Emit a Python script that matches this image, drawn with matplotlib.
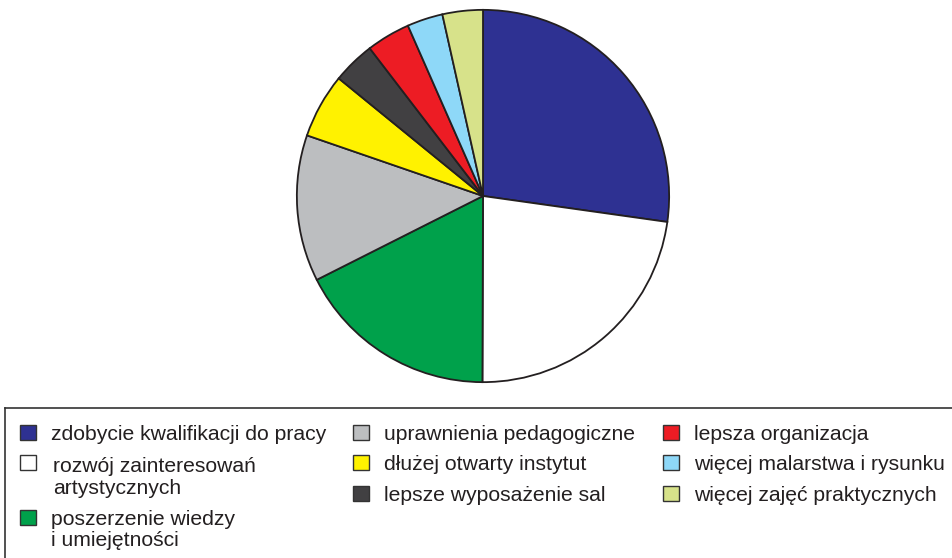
import matplotlib.pyplot as plt
from matplotlib.patches import Rectangle

# share of answers (percent), clockwise from 12 o'clock
labels = ["zdobycie kwalifikacji do pracy",
          "rozwój zainteresowań\nartystycznych",
          "poszerzenie wiedzy\ni umiejętności",
          "uprawnienia pedagogiczne",
          "dłużej otwarty instytut",
          "lepsze wyposażenie sal",
          "lepsza organizacja",
          "więcej malarstwa i rysunku",
          "więcej zajęć praktycznych"]
values = [27.2, 22.8, 17.5, 12.7, 5.6, 3.7, 3.8, 3.1, 3.5]
colors = ["#2E3192", "#FFFFFF", "#00A14B", "#BCBEC0", "#FFF200",
          "#414042", "#ED1C24", "#8ED8F8", "#D7E28A"]

plt.rcParams['font.family'] = ['Liberation Sans', 'DejaVu Sans']

W, H = 952, 558
fig = plt.figure(figsize=(W / 100, H / 100), dpi=100)

# pie: centre (483,196) px, radius 188 px
cx, cy, r = 483, 196, 188
ax = fig.add_axes([(cx - r) / W, 1 - (cy + r) / H, 2 * r / W, 2 * r / H])
ax.pie(values, colors=colors, startangle=90, counterclock=False, radius=1,
       wedgeprops=dict(edgecolor="#231F20", linewidth=1.3))
ax.set_xlim(-1.01, 1.01)
ax.set_ylim(-1.01, 1.01)
ax.set_aspect("equal")
ax.axis("off")

def px(x, y):
    return x / W, 1 - y / H

# legend frame (open at right and bottom)
fig.add_artist(plt.Line2D([5 / W, 5 / W], [1 - 408 / H, 0], color="#333333",
                          linewidth=1.2, transform=fig.transFigure))
fig.add_artist(plt.Line2D([5 / W, 1], [1 - 408 / H, 1 - 408 / H], color="#333333",
                          linewidth=1.2, transform=fig.transFigure))

# legend layout in pixels: square left edge, square bottom per row
col_x = [20, 353, 663]
row_y = [[440, 470, 525], [440, 470, 501], [440, 470, 501]]
text_dx = [[31, 33, 31], [31, 31, 31], [31, 31, 31]]
text_dy = [[0, 2.5, 0], [0, 0, 0], [0, 0, 0]]
for i, (lab, col) in enumerate(zip(labels, colors)):
    c, rr = divmod(i, 3)
    x0, y0 = col_x[c], row_y[c][rr]
    bx, by = px(x0, y0)
    fig.add_artist(Rectangle((bx, by), 16 / W, 15 / H, facecolor=col,
                             edgecolor="#333333", linewidth=1.0,
                             transform=fig.transFigure))
    for k, line in enumerate(lab.split("\n")):
        tx, ty = px(x0 + text_dx[c][rr], y0 + text_dy[c][rr] + 21.5 * k)
        fig.text(tx, ty, line, ha="left", va="baseline", fontsize=15.2,
                 color="#231F20")

fig.savefig("out.png", dpi=100)
